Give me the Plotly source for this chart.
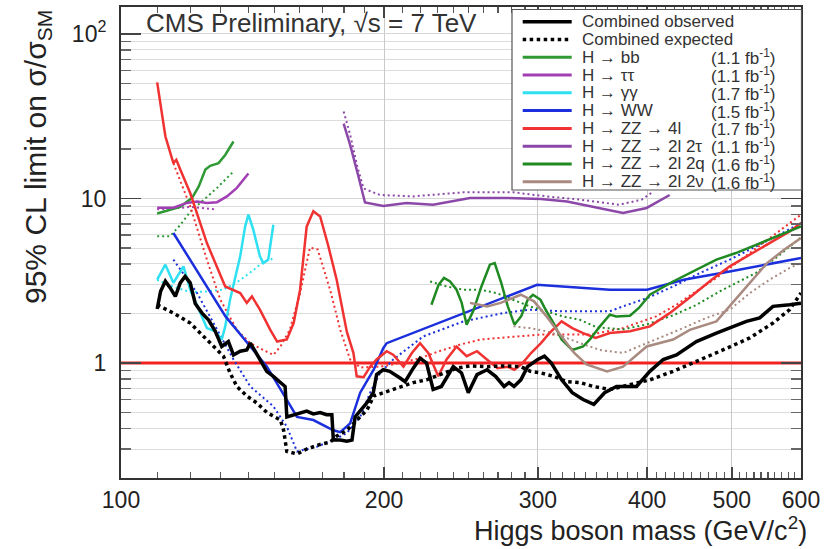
import math
import plotly.graph_objects as go

# ---------------- data ----------------
OBS_MASS = [110, 111, 112.4, 113.8, 115.4, 116.9, 118.4, 120, 121.6, 123.8,
            125.9, 128.2, 130.4, 132.7, 134.5, 136.9, 139.3, 140.6, 142.4, 144.9,
            146.8, 149.4, 152.2, 154.1, 154.8, 157.6, 160.3, 163.1, 166, 169,
            171.9, 174.3, 175, 178.2, 181.3, 183.8, 185.3, 187.8, 191, 194.4,
            196.1, 199.6, 203, 208.6, 211.4, 216, 219.9, 223.7, 227.6, 232.6,
            240, 245.3, 249.7, 255.5, 262.4, 268.3, 274.4, 278, 281.7, 286.8,
            291.9, 299.8, 305.2, 310.8, 319.3, 328.4, 337.9, 347.6, 357.6, 369,
            389, 402.9, 417.3, 432.2, 455.4, 480.1, 497.3, 519.6, 538.1, 557.3,
            582.3, 600]
OBS_VAL = [2.13, 2.73, 3.14, 2.87, 2.54, 3.07, 3.36, 3.07, 2.30, 2.01,
           1.83, 1.56, 1.26, 1.35, 1.12, 1.18, 1.20, 1.32, 1.18, 1.00,
           0.89, 0.83, 0.76, 0.72, 0.47, 0.485, 0.50, 0.51, 0.49, 0.50,
           0.485, 0.485, 0.34, 0.34, 0.335, 0.34, 0.47, 0.51, 0.57, 0.66,
           0.85, 0.91, 0.89, 0.81, 0.77, 0.93, 1.07, 1.00, 0.69, 0.72,
           0.95, 0.87, 0.66, 0.85, 0.91, 0.83, 0.72, 0.76, 0.72, 0.79,
           0.95, 1.05, 1.10, 1.00, 0.79, 0.66, 0.60, 0.56, 0.66, 0.72,
           0.72, 0.89, 1.05, 1.12, 1.35, 1.52, 1.63, 1.79, 1.88, 2.21,
           2.26, 2.31]

EXP_MASS = [110, 114.8, 120, 125.4, 131, 133.3, 135.7, 139.3, 143.1, 146.9,
            152.2, 153.5, 154.8, 159, 163.1, 169, 173.5, 176.6, 181.3, 186.2,
            191.3, 194.6, 199.6, 204.9, 216, 223.7, 233.9, 242.1, 250.7, 262.4,
            274.2, 286.8, 294.1, 302.4, 312.6, 323.8, 335.3, 347.2, 362.6, 391.4,
            402.9, 428.3, 455.3, 488.4, 524.2, 557.3, 582.3, 600]
EXP_VAL = [2.26, 2.01, 1.75, 1.39, 1.10, 0.87, 0.72, 0.63, 0.57, 0.50,
           0.45, 0.39, 0.29, 0.28, 0.30, 0.32, 0.33, 0.36, 0.39, 0.45,
           0.52, 0.63, 0.66, 0.69, 0.76, 0.79, 0.87, 0.93, 0.96, 0.95,
           0.96, 0.95, 0.89, 0.87, 0.83, 0.77, 0.76, 0.72, 0.69, 0.76,
           0.79, 0.89, 1.02, 1.20, 1.42, 1.75, 2.11, 2.66]

BB_MASS = [110, 112.9, 116.9, 120.6, 122.7, 124.9, 126.5, 129.3, 131.6, 134.5]
BB_VAL = [8.1, 8.4, 8.9, 10.1, 11.8, 15.0, 15.8, 16.4, 18.4, 22.2]
BB_EXP_MASS = [110, 113.8, 116.9, 120, 124.3, 128.8, 134.5]
BB_EXP_VAL = [5.9, 5.9, 6.9, 8.3, 9.8, 11.6, 14.6]

TT_MASS = [110, 114.8, 119, 122.2, 125.4, 128.8, 132.2, 135.7, 139.9]
TT_VAL = [8.8, 8.8, 9.4, 9.6, 9.4, 9.5, 10.3, 11.6, 14.2]
TT_EXP_MASS = [110, 115, 120, 124, 128]
TT_EXP_VAL = [8.6, 8.7, 8.9, 8.7, 8.6]

GG_MASS = [110, 112.4, 114.8, 117.9, 120, 122.7, 125.4, 128.2, 130.4, 131.6,
           133.3, 136.9, 138.7, 139.9, 141.7, 144.2, 145.5, 147.4, 149.4]
GG_VAL = [3.21, 3.96, 3.07, 3.87, 2.79, 2.11, 1.63, 1.56, 1.39, 1.67,
          2.43, 4.45, 6.77, 7.97, 6.46, 4.45, 4.05, 4.25, 6.93]
GG_EXP_MASS = [110, 115, 120, 125, 131, 137, 142, 145, 149]
GG_EXP_VAL = [3.2, 2.9, 2.7, 2.72, 2.79, 3.2, 3.7, 4.05, 4.3]

WW_MASS = [114.8, 131.7, 146.9, 159, 166, 175, 178.2, 182.9, 187.8, 194.6,
           199.6, 201.4, 299.3, 362.4, 400, 440.4, 497.3, 557.3, 600]
WW_VAL = [6.17, 1.92, 0.95, 0.47, 0.45, 0.39, 0.38, 0.43, 0.66, 0.91,
          1.23, 1.32, 2.99, 2.79, 2.79, 3.21, 3.60, 4.05, 4.35]
WW_EXP_MASS = [114.8, 122.2, 134.5, 140.6, 149.4, 154.8, 159, 167.5, 175, 181.3,
               187.8, 192.8, 197.9, 204.9, 221.7, 246.5, 273.6, 292.8, 320.3, 362.4,
               375.4, 400, 428.3, 460, 497.3, 533, 561.5, 600]
WW_EXP_VAL = [4.25, 2.66, 1.05, 0.72, 0.545, 0.41, 0.29, 0.31, 0.34, 0.375,
              0.47, 0.66, 0.87, 1.05, 1.45, 1.79, 2.01, 2.11, 2.06, 2.06,
              2.21, 2.48, 2.92, 3.53, 4.25, 5.11, 5.88, 7.1]

ZZ4L_MASS = [110, 112.4, 114.8, 115.7, 116.9, 120, 125.4, 131.6, 136.9, 139.3,
             141.2, 144.2, 148.2, 150.9, 154.8, 157.6, 160.3, 161.7, 163.1, 166,
             169, 172.5, 176.5, 181.3, 184.5, 186.1, 189.5, 192.8, 196.1, 201.4,
             205, 210.5, 215.2, 219.9, 224.7, 230.7, 235.8, 242.1, 248.6, 255.5,
             262.4, 269.6, 276.9, 281.9, 288.1, 294.6, 302.4, 309.2, 319.3, 328.4,
             337.9, 349.2, 362.6, 382.3, 402.9, 424.5, 449, 474.1, 497.3, 524.2,
             552.5, 582.3, 600]
ZZ4L_VAL = [50.8, 23.9, 16.4, 17.2, 15.0, 10.8, 5.36, 2.92, 2.66, 2.32,
            2.54, 2.11, 1.59, 1.35, 1.39, 1.75, 2.79, 4.25, 6.74, 8.37,
            7.77, 5.25, 3.22, 1.55, 1.15, 0.83, 0.82, 0.95, 1.05, 1.18,
            1.12, 0.95, 1.15, 1.32, 1.15, 0.83, 1.05, 1.26, 1.10, 1.18,
            1.05, 0.93, 0.95, 0.91, 1.00, 1.15, 1.32, 1.52, 1.79, 1.63,
            1.52, 1.42, 1.52, 1.56, 1.67, 2.01, 2.54, 3.21, 3.87, 4.55,
            5.36, 6.31, 7.1]
ZZ4L_EXP_MASS = [114.8, 120, 125.4, 129.9, 135.7, 140.6, 145.5, 149.4, 152.2, 156,
                 160.3, 164.5, 167.9, 173.5, 178.2, 182.9, 187.8, 197.9, 208.6, 219.9,
                 231.3, 243.9, 257.8, 272.2, 286.8, 302.4, 345.2, 375.4, 409.5, 432.2,
                 455.3, 480.1, 497.3, 524.2, 552.5, 582.3, 600]
ZZ4L_EXP_VAL = [16.4, 8.97, 4.25, 2.43, 1.59, 1.32, 1.20, 1.12, 1.26, 1.59,
                2.66, 5.02, 4.9, 2.79, 1.59, 1.05, 0.94, 0.95, 1.00, 1.07,
                1.18, 1.29, 1.39, 1.42, 1.45, 1.49, 1.49, 1.63, 1.92, 2.26,
                2.73, 3.29, 3.78, 4.67, 5.75, 7.1, 7.97]

ZZTT_MASS = [179.8, 182.9, 186.7, 190.2, 199.6, 212.1, 227.6, 250.8, 276.5, 302.4,
             323.9, 347.5, 375.4, 399.5, 424.5]
ZZTT_VAL = [28.5, 21.2, 14.0, 9.46, 9.0, 9.39, 9.17, 10.07, 10.07, 9.93,
            9.6, 8.88, 8.16, 8.76, 10.5]
ZZTT_EXP_MASS = [179.8, 182.9, 186.2, 189.5, 197.9, 216, 246.5, 281.3, 306.9, 335.3,
                 371.5, 394.4, 406.3]
ZZTT_EXP_VAL = [33.8, 24.4, 16.0, 11.5, 10.5, 10.3, 10.9, 10.9, 10.3, 9.84,
                9.17, 9.84, 11.0]

ZZQQ_MASS = [226.6, 230.9, 234.2, 238, 242.1, 245.4, 248.6, 252.9, 258.5, 264.3,
             267.7, 272.4, 277.1, 282, 287, 292.1, 296.1, 301.9, 306.1, 312.6,
             319.3, 328.4, 337.9, 344, 353.2, 362.6, 368.6, 382.3, 391.4, 402.9,
             428.3, 455.3, 480.1, 505.4, 533, 561.5, 600]
ZZQQ_VAL = [2.26, 2.99, 3.29, 3.13, 2.79, 2.32, 1.71, 2.06, 2.92, 3.96,
            4.05, 3.06, 2.21, 1.71, 1.92, 2.43, 2.60, 2.43, 2.11, 1.75,
            1.39, 1.20, 1.26, 1.39, 1.67, 1.97, 1.92, 1.94, 2.16, 2.60,
            3.13, 3.69, 4.25, 4.66, 5.24, 5.88, 6.77]
ZZQQ_EXP_MASS = [225.8, 235.8, 246.5, 257.8, 269.1, 281.3, 293.5, 306.9, 320.3, 335.3,
                 350, 375, 400, 428.3, 455.3, 488.4, 533, 561.5, 600]
ZZQQ_EXP_VAL = [3.13, 2.92, 2.79, 2.79, 2.66, 2.43, 2.21, 2.06, 1.92, 1.83,
                1.65, 1.6, 1.72, 1.95, 2.25, 2.79, 3.53, 4.35, 5.8]

ZZNN_MASS = [250.8, 262.4, 271.9, 286.8, 296.9, 306.9, 319.3, 330.1, 341, 359.9,
             375.4, 399.5, 428.3, 447.6, 480.1, 501, 524.2, 548.6, 573.9, 600]
ZZNN_VAL = [2.32, 2.21, 2.32, 2.60, 2.37, 1.92, 1.45, 1.15, 0.98, 0.89,
            0.95, 1.26, 1.39, 1.59, 1.79, 2.32, 3.06, 4.05, 4.88, 5.75]
ZZNN_EXP_MASS = [281.3, 293.5, 306.9, 320.3, 335.3, 353.2, 375.4, 391.4, 409.5, 439.8,
                 467.6, 497.3, 524.2, 552.5, 582.3, 600]
ZZNN_EXP_VAL = [1.67, 1.63, 1.56, 1.45, 1.32, 1.20, 1.15, 1.26, 1.39, 1.63,
                1.88, 2.11, 2.66, 3.21, 3.78, 4.05]

SM_LINE_MASS = [100, 600]
SM_LINE_VAL = [1, 1]

X_TICKS = [100, 200, 300, 400, 500, 600]
X_TICK_TEXT = ["100", "200", "300", "400", "500", "600"]
Y_TICKS = [1, 10, 100]
Y_TICK_TEXT = ["1", "10", "10<sup>2</sup>"]

LEGEND_LABELS = ["Combined observed", "Combined expected", "H \u2192 bb", "H \u2192 \u03c4\u03c4",
                 "H \u2192 \u03b3\u03b3", "H \u2192 WW", "H \u2192 ZZ \u2192 4l",
                 "H \u2192 ZZ \u2192 2l 2\u03c4", "H \u2192 ZZ \u2192 2l 2q", "H \u2192 ZZ \u2192 2l 2\u03bd"]
LEGEND_LUMI = ["", "", "1.1", "1.1", "1.7", "1.5", "1.7", "1.1", "1.6", "1.6"]

# ---------------- styles ----------------
C_BLACK = "#000000"
C_BB = "#2f9a35"
C_TT = "#a33fb5"
C_GG = "#2ee0f2"
C_WW = "#1b2fdc"
C_ZZ4L = "#f03232"
C_ZZTT = "#8c48a8"
C_ZZQQ = "#1f8a22"
C_ZZNN = "#a98a80"
C_SM = "#f22222"
LEGEND_COLORS = [C_BLACK, C_BLACK, C_BB, C_TT, C_GG, C_WW, C_ZZ4L, C_ZZTT, C_ZZQQ, C_ZZNN]

FONT = "Liberation Sans, Arial, Helvetica, sans-serif"
W, H = 835, 549
ML, MR, MT, MB = 121, 34, 7, 71
X0, X1 = ML, W - MR
Y0, Y1 = MT, H - MB


def px(x):
    return (x - X0) / (X1 - X0)


def py(y):
    return (Y1 - y) / (Y1 - Y0)


fig = go.Figure()


def add(m, v, color, width, dash=None):
    fig.add_trace(go.Scatter(x=m, y=v, mode="lines",
                             line=dict(color=color, width=width, dash=dash),
                             showlegend=False, hoverinfo="skip"))


DOT = "2px,3px"
add(SM_LINE_MASS, SM_LINE_VAL, C_SM, 3)
# expected
add(BB_EXP_MASS, BB_EXP_VAL, C_BB, 2, DOT)
add(TT_EXP_MASS, TT_EXP_VAL, C_TT, 2, DOT)
add(GG_EXP_MASS, GG_EXP_VAL, C_GG, 2, DOT)
add(WW_EXP_MASS, WW_EXP_VAL, C_WW, 2, DOT)
add(ZZ4L_EXP_MASS, ZZ4L_EXP_VAL, C_ZZ4L, 2, DOT)
add(ZZTT_EXP_MASS, ZZTT_EXP_VAL, C_ZZTT, 2, DOT)
add(ZZQQ_EXP_MASS, ZZQQ_EXP_VAL, C_ZZQQ, 2, DOT)
add(ZZNN_EXP_MASS, ZZNN_EXP_VAL, C_ZZNN, 2, DOT)
# observed
add(BB_MASS, BB_VAL, C_BB, 2.5)
add(TT_MASS, TT_VAL, C_TT, 2.5)
add(GG_MASS, GG_VAL, C_GG, 2.5)
add(WW_MASS, WW_VAL, C_WW, 2.5)
add(ZZ4L_MASS, ZZ4L_VAL, C_ZZ4L, 2.5)
add(ZZTT_MASS, ZZTT_VAL, C_ZZTT, 2.5)
add(ZZQQ_MASS, ZZQQ_VAL, C_ZZQQ, 2.5)
add(ZZNN_MASS, ZZNN_VAL, C_ZZNN, 2.5)
# combined
add(EXP_MASS, EXP_VAL, C_BLACK, 3.5, "dot")
add(OBS_MASS, OBS_VAL, C_BLACK, 3.5)

x_minor = [m for m in range(110, 600, 10) if m % 100 != 0]
y_minor = [d * k for d in (0.1, 1, 10) for k in range(2, 10)]

fig.update_layout(
    width=W, height=H,
    margin=dict(l=ML, r=MR, t=MT, b=MB, autoexpand=False),
    paper_bgcolor="white", plot_bgcolor="white",
    font=dict(family=FONT, color="#222"),
    showlegend=False,
    xaxis=dict(type="log", range=[2, math.log10(600)],
               tickmode="array", tickvals=X_TICKS, ticktext=X_TICK_TEXT,
               ticks="inside", ticklen=11, tickwidth=1.5, tickcolor="#444",
               tickfont=dict(size=23, color="#222"), ticklabelstandoff=0,
               showgrid=True, gridcolor="#c9c9c9", gridwidth=1,
               showline=True, linecolor="#333", linewidth=2, mirror="allticks",
               zeroline=False, automargin=False,
               minor=dict(tickmode="array", tickvals=x_minor, ticks="inside",
                          ticklen=6, tickwidth=1.2, tickcolor="#555", showgrid=False)),
    yaxis=dict(type="log", range=[math.log10(0.2), 2.164],
               tickmode="array", tickvals=Y_TICKS, ticktext=Y_TICK_TEXT,
               ticks="inside", ticklen=20, tickwidth=1.5, tickcolor="#444",
               tickfont=dict(size=23, color="#222"), ticklabelstandoff=8,
               showgrid=True, gridcolor="#d6d6d6", gridwidth=1,
               showline=True, linecolor="#333", linewidth=2, mirror="allticks",
               zeroline=False, automargin=False,
               minor=dict(tickmode="array", tickvals=y_minor, ticks="inside",
                          ticklen=10, tickwidth=1.2, tickcolor="#666",
                          showgrid=True, gridcolor="#dcdcdc", gridwidth=1)),
)

annotations = []
shapes = []
# axis titles and header
annotations.append(dict(xref="paper", yref="paper", x=1.012, y=py(529), xanchor="right",
                        yanchor="middle", showarrow=False,
                        text="Higgs boson mass (GeV/c<sup>2</sup>)",
                        font=dict(family=FONT, size=27, color="#222")))
annotations.append(dict(xref="paper", yref="paper", x=px(37), y=py(8), xanchor="center",
                        yanchor="top", showarrow=False, textangle=-90,
                        text="95% CL limit on \u03c3/\u03c3<sub>SM</sub>",
                        font=dict(family=FONT, size=30, color="#222")))
annotations.append(dict(xref="paper", yref="paper", x=px(144), y=py(23), xanchor="left",
                        yanchor="middle", showarrow=False,
                        text="CMS Preliminary, \u221as = 7 TeV",
                        font=dict(family=FONT, size=26, color="#333")))

# legend box
shapes.append(dict(type="rect", xref="paper", yref="paper", x0=px(512), x1=px(801.5),
                   y0=py(190), y1=py(9.5), line=dict(color="#555", width=1.2),
                   fillcolor="white", layer="above"))
for i, (lab, lumi, col) in enumerate(zip(LEGEND_LABELS, LEGEND_LUMI, LEGEND_COLORS)):
    yy = 21.7 + 17.78 * i
    dash = "dot" if i == 1 else None
    lw = 3.5 if i < 2 else 3
    shapes.append(dict(type="line", xref="paper", yref="paper", x0=px(522.7), x1=px(571.7),
                       y0=py(yy), y1=py(yy), line=dict(color=col, width=lw, dash=dash),
                       layer="above"))
    annotations.append(dict(xref="paper", yref="paper", x=px(581), y=py(yy), xanchor="left",
                            yanchor="middle", showarrow=False, text=lab, borderpad=0,
                            font=dict(family=FONT, size=17, color="#333")))
    if lumi:
        annotations.append(dict(xref="paper", yref="paper", x=px(710), y=py(yy),
                                xanchor="left", yanchor="middle", showarrow=False,
                                text="(" + lumi + " fb<sup>-1</sup>)", borderpad=0,
                                font=dict(family=FONT, size=17, color="#333")))

fig.update_layout(annotations=annotations, shapes=shapes)
fig.write_html("out.html", config={"displayModeBar": False, "staticPlot": True},
               post_script="document.body.style.margin='0';document.body.style.overflow='hidden';")
